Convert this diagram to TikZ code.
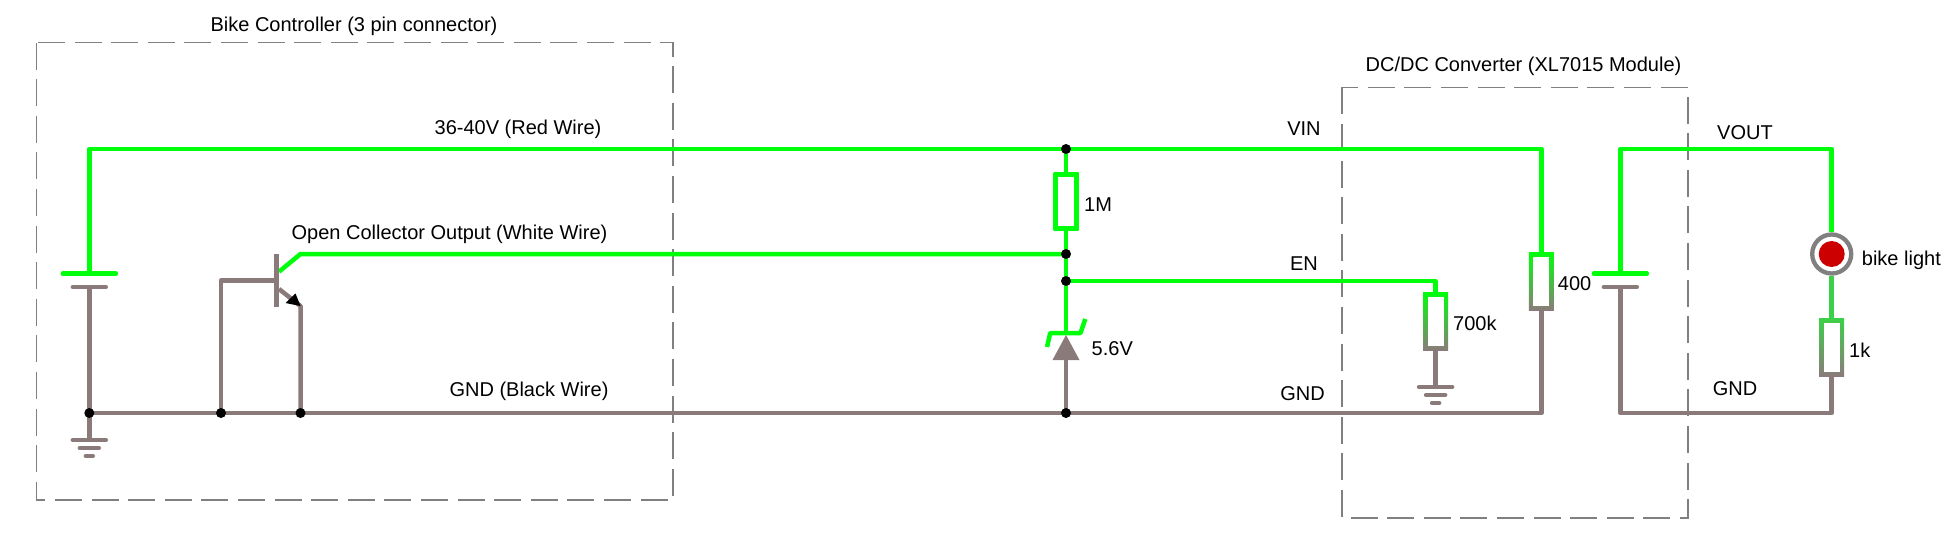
\documentclass[tikz,border=0pt]{standalone}
\usepackage{fontspec}
\setmainfont{Liberation Sans}
\usepackage{xcolor}
\usepackage{tikz}
\usetikzlibrary{arrows, shapes}

\definecolor{wiregreen}{HTML}{00FF0A}
\definecolor{wiregray}{HTML}{8A7B7A}
\definecolor{boxgray}{HTML}{808080}
\definecolor{midgreen}{HTML}{3CD048}
\definecolor{ledred}{HTML}{CC0000}

\tikzset{
	wire/.style = {line width=4.5pt, line join=round},
	plate/.style = {line width=4.5pt, line cap=round},
	module/.style = {draw=boxgray, line width=1.5pt, dash pattern=on 27pt off 9.6pt},
	junction/.style = {circle, fill=black, inner sep=0pt, minimum size=10pt},
	resistor/.style 2 args = {rectangle, inner sep=0pt, outer sep=0pt, minimum width=25pt, minimum height=58pt,
		top color=#1, bottom color=#2,
		path picture={\fill[white] ([shift={(4.5,4.5)}]path picture bounding box.north west) rectangle
			([shift={(-4.5,-4.5)}]path picture bounding box.south east);}},
}

\begin{document}
\begin{tikzpicture}[x=1pt,y=-1pt]
		\tikzstyle{every node} = [font = \fontsize{20}{22}\selectfont, inner sep=0pt]
				\useasboundingbox (0,0) rectangle (1958,538);
				% modules
				\path[module] (36.7,42.5) rectangle (673,500);
				\path[module] (1342,87.3) rectangle (1688,518);
				% points on the wires
				\coordinate (batl) at (89.3,149);
				\coordinate (batlp) at (89.3,273.7);
				\coordinate (batlm) at (89.3,287);
				\coordinate (gndl) at (89.3,413);
				\coordinate (gndlp) at (89.3,440);
				\coordinate (base) at (276.7,280.5);
				\coordinate (basel) at (221,280.5);
				\coordinate (gndb) at (221,413);
				\coordinate (coll) at (279,271.7);
				\coordinate (collb) at (300.5,254);
				\coordinate (emit) at (279,289);
				\coordinate (emitb) at (300.5,306);
				\coordinate (gnde) at (300.5,413);
				\coordinate (vin) at (1066,149);
				\coordinate (ocn) at (1066,254);
				\coordinate (en) at (1066,281);
				\coordinate (zk) at (1066,333);
				\coordinate (za) at (1066,358);
				\coordinate (gndz) at (1066,413);
				\coordinate (enc) at (1435.6,281);
				\coordinate (gnde2) at (1435.6,387);
				\coordinate (vinc) at (1541.3,149);
				\coordinate (gndc) at (1541.3,413);
				\coordinate (vouta) at (1620.3,149);
				\coordinate (batrp) at (1620.3,273.7);
				\coordinate (batrm) at (1620.3,287);
				\coordinate (gndo) at (1620.3,413);
				\coordinate (voutc) at (1831.7,149);
				\coordinate (gndd) at (1831.7,413);
				% parts
				\node[resistor={wiregreen}{wiregreen}] (rtop) at (1066,201.5) {};
				\node[resistor={wiregreen}{wiregray}] (rlow) at (1435.6,321) {};
				\node[resistor={wiregreen}{wiregray}] (rload) at (1541.3,281) {};
				\node[resistor={midgreen}{wiregray}] (rled) at (1831.7,347) {};
				\node[circle, draw=boxgray, line width=4.3pt, fill=white, minimum size=39pt] (led) at (1831.7,254) {};
				\node[circle, fill=ledred, minimum size=26pt] (ledcore) at (led) {};
				% green wires
				\path[draw,wire,wiregreen] (batlp)--(batl)--(vin)--(vinc)--(rload);
				\path[draw,wire,wiregreen] (coll)--(collb)--(ocn);
				\path[draw,wire,wiregreen] (vin)--(rtop);
				\path[draw,wire,wiregreen] (rtop)--(zk);
				\path[draw,wire,wiregreen] (en)--(enc)--(rlow);
				\path[draw,wire,wiregreen] (batrp)--(vouta)--(voutc)--(led);
				\path[draw,wire,midgreen] (led)--(rled);
				% gray wires
				\path[draw,wire,wiregray] (batlm)--(gndl)--(gndlp);
				\path[draw,wire,wiregray] (gndl)--(gndc)--(rload);
				\path[draw,wire,wiregray] (gndb)--(basel)--(base);
				\path[draw,wire,wiregray] (gnde)--(emitb)--(emit);
				\path[draw,wire,wiregray] (rlow)--(gnde2);
				\path[draw,wire,wiregray] (za)--(gndz);
				\path[draw,wire,wiregray] (batrm)--(gndo)--(gndd)--(rled);
				% batteries
				\path[draw,plate,wiregreen] (batlp)++(-26.5,0)--++(53,0);
				\path[draw,plate,wiregray] (batlm)++(-16.5,0)--++(33,0);
				\path[draw,plate,wiregreen] (batrp)++(-26.5,0)--++(53,0);
				\path[draw,plate,wiregray] (batrm)++(-16.5,0)--++(33,0);
				% grounds
				\foreach \g in {gndlp,gnde2} {
					\path[draw,plate,wiregray] (\g)++(-16.5,0)--++(33,0);
					\path[draw,plate,wiregray] (\g)++(-9.5,8)--++(19,0);
					\path[draw,plate,wiregray] (\g)++(-3.5,16)--++(7,0);
				}
				% transistor
				\path[draw,line width=4.5pt,wiregray] (276.7,254)--(276.7,306.7);
				\path[fill=black] (emitb)--(285.5,303)--(295.5,293.5)--cycle;
				% zener
				\path[fill=wiregray] (1066,335)--(1079.5,360)--(1052.5,360)--cycle;
				\path[draw,wire,wiregreen] (1047,347)--(1050.2,333)--(1080.5,333)--(1085.3,319);
				% junctions
				\foreach \j/\p in {ja/gndl,jb/gndb,jc/gnde,jd/gndz,je/vin,jf/ocn,jg/en} {
					\node[junction] (\j) at (\p) {};
				}
				% labels
				\node (titlebike) at (354,26) {Bike Controller (3 pin connector)};
				\node (titledc) at (1523.5,66) {DC/DC Converter (XL7015 Module)};
				\node (lblred) at (518,129.5) {36-40V (Red Wire)};
				\node (lblwhite) at (449.5,234.5) {Open Collector Output (White Wire)};
				\node (lblblack) at (529,391) {GND (Black Wire)};
				\node (lblvin) at (1304,129) {VIN};
				\node (lblen) at (1304,263.5) {EN};
				\node (lblgnd) at (1302.6,393.5) {GND};
				\node (lblvout) at (1745,132.5) {VOUT};
				\node (lblgndo) at (1735,389) {GND};
				\node[right] (lbltop) at (1084,204.5) {1M};
				\node[right] (lblzen) at (1091.5,349) {5.6V};
				\node[right] (lbllow) at (1453,323) {700k};
				\node[right] (lblload) at (1557.7,284) {400};
				\node[right] (lbllight) at (1861.7,260.5) {bike light};
				\node[right] (lblled) at (1849,350.5) {1k};
	\end{tikzpicture}
\end{document}
